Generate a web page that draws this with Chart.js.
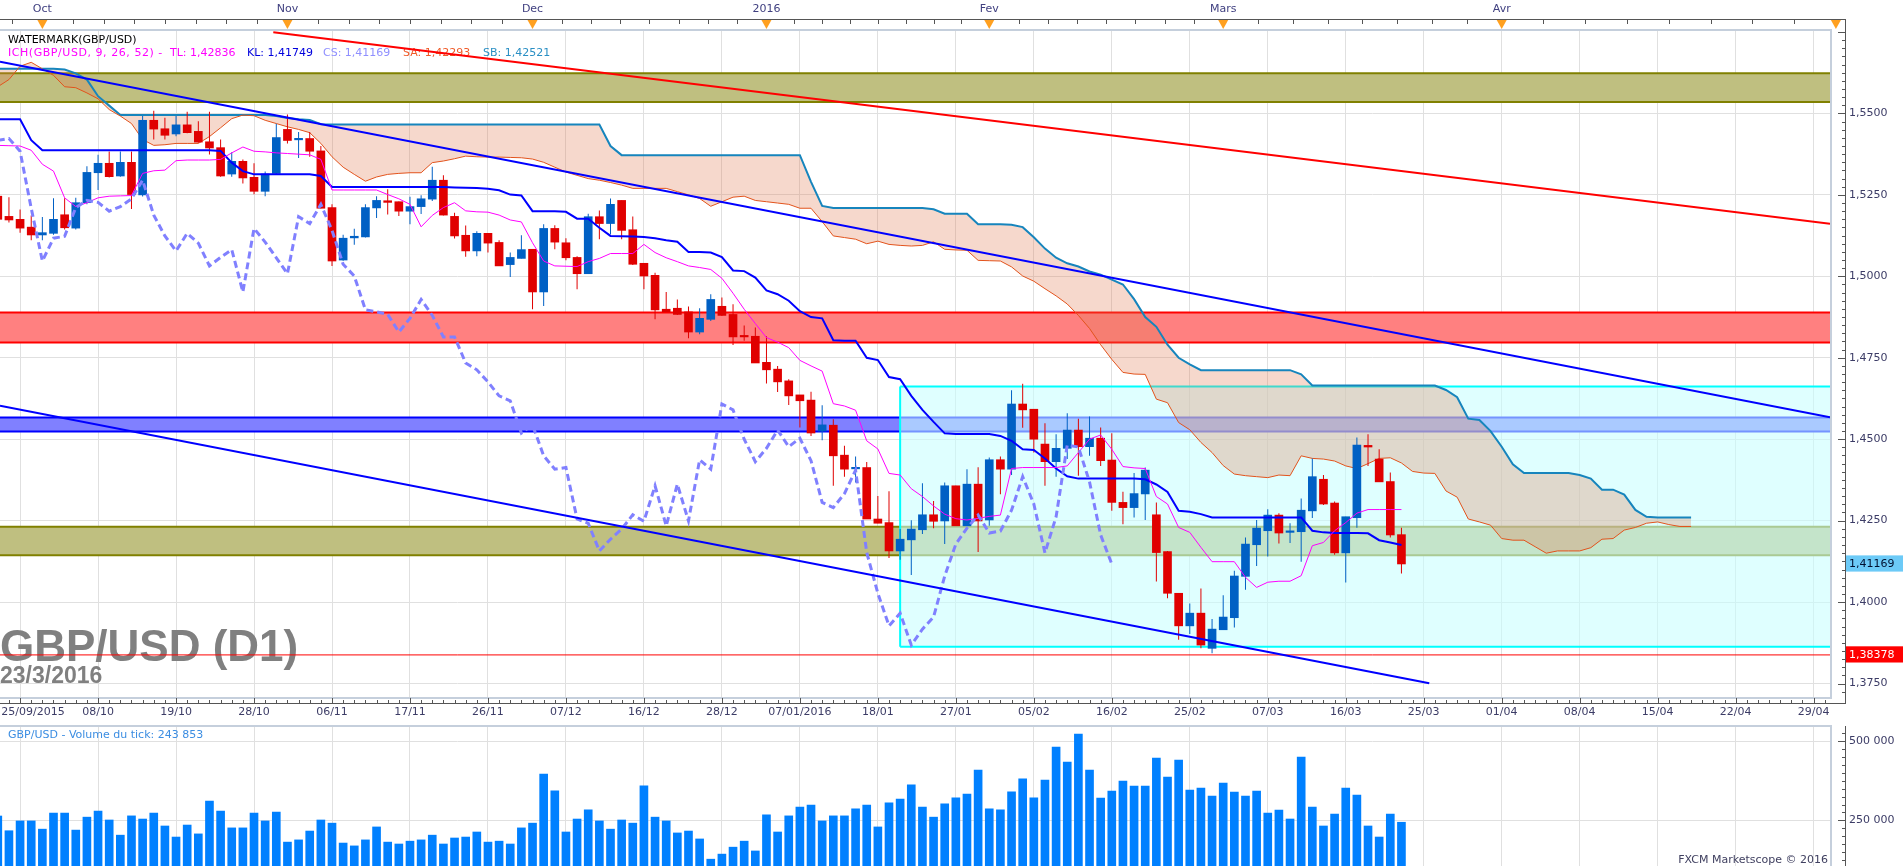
<!DOCTYPE html>
<html lang="fr">
<head>
<meta charset="utf-8">
<title>GBP/USD (D1)</title>
<script src="https://cdn.jsdelivr.net/npm/chart.js@4.4.1/dist/chart.umd.min.js"></script>
<style>
  html, body { margin: 0; padding: 0; background: #fff; overflow: hidden; }
  .panel { position: absolute; left: 0; width: 1903px; }
  #pricePanel { top: 0; height: 722px; }
  #volumePanel { top: 722px; height: 146px; }
</style>
</head>
<body>
<div class="panel" id="pricePanel"><canvas id="priceChart"></canvas></div>
<div class="panel" id="volumePanel"><canvas id="volumeChart"></canvas></div>
<script>
// GBP/USD D1 - index 0 = 25/09/2015, one slot per trading day up to 23/03/2016 (index 126)
const open = [
  1.5246,1.5184,1.5175,1.5151,1.5127,1.5132,1.5189,1.5148,1.5226,1.5318,
  1.5347,1.5308,1.5350,1.5250,1.5479,1.5453,1.5437,1.5465,1.5445,1.5413,
  1.5395,1.5314,1.5353,1.5304,1.5261,1.5316,1.5451,1.5419,1.5423,1.5385,
  1.5211,1.5050,1.5118,1.5121,1.5210,1.5232,1.5229,1.5200,1.5214,1.5237,
  1.5295,1.5184,1.5126,1.5078,1.5132,1.5104,1.5036,1.5055,1.5083,1.4952,
  1.5147,1.5103,1.5058,1.5008,1.5183,1.5162,1.5233,1.5143,1.5040,1.5003,
  1.4899,1.4902,1.4891,1.4829,1.4868,1.4908,1.4883,1.4816,1.4816,1.4736,
  1.4715,1.4679,1.4636,1.4620,1.4525,1.4543,1.4451,1.4409,1.4413,1.4255,
  1.4244,1.4157,1.4191,1.4222,1.4268,1.4249,1.4357,1.4234,1.4362,1.4252,
  1.4437,1.4408,1.4608,1.4592,1.4485,1.4431,1.4472,1.4528,1.4477,1.4503,
  1.4436,1.4306,1.4290,1.4332,1.4268,1.4155,1.4027,1.3927,1.3966,1.3858,
  1.3915,1.3952,1.4079,1.4176,1.4219,1.4267,1.4214,1.4216,1.4280,1.4377,
  1.4304,1.4151,1.4259,1.4481,1.4439,1.4370,1.4207
];
const high = [
  1.5255,1.5243,1.5205,1.5187,1.5182,1.5240,1.5240,1.5241,1.5338,1.5373,
  1.5383,1.5383,1.5383,1.5492,1.5508,1.5487,1.5492,1.5505,1.5476,1.5505,
  1.5420,1.5381,1.5359,1.5347,1.5322,1.5468,1.5497,1.5443,1.5443,1.5400,
  1.5221,1.5128,1.5146,1.5221,1.5246,1.5267,1.5230,1.5244,1.5249,1.5336,
  1.5310,1.5195,1.5156,1.5138,1.5132,1.5111,1.5073,1.5126,1.5083,1.5160,
  1.5157,1.5117,1.5062,1.5192,1.5202,1.5239,1.5233,1.5184,1.5040,1.5011,
  1.4952,1.4929,1.4907,1.4902,1.4945,1.4935,1.4914,1.4849,1.4843,1.4816,
  1.4725,1.4684,1.4636,1.4646,1.4604,1.4561,1.4480,1.4447,1.4430,1.4326,
  1.4340,1.4224,1.4251,1.4365,1.4310,1.4367,1.4357,1.4408,1.4414,1.4444,
  1.4447,1.4650,1.4670,1.4592,1.4549,1.4515,1.4580,1.4563,1.4570,1.4536,
  1.4518,1.4339,1.4396,1.4413,1.4306,1.4157,1.4027,1.3996,1.4042,1.3948,
  1.4021,1.4096,1.4198,1.4252,1.4285,1.4273,1.4242,1.4318,1.4441,1.4390,
  1.4309,1.4262,1.4505,1.4515,1.4469,1.4398,1.4228
];
const low = [
  1.5165,1.5165,1.5134,1.5111,1.5111,1.5128,1.5144,1.5144,1.5221,1.5265,
  1.5303,1.5306,1.5207,1.5245,1.5420,1.5420,1.5430,1.5439,1.5410,1.5374,
  1.5306,1.5306,1.5285,1.5252,1.5246,1.5313,1.5408,1.5363,1.5367,1.5208,
  1.5032,1.5048,1.5097,1.5119,1.5179,1.5190,1.5185,1.5160,1.5191,1.5231,
  1.5187,1.5116,1.5060,1.5062,1.5073,1.5032,1.4998,1.5055,1.4899,1.4909,
  1.5083,1.5049,1.4960,1.5008,1.5114,1.5129,1.5114,1.5035,1.4960,1.4868,
  1.4891,1.4881,1.4810,1.4822,1.4863,1.4878,1.4789,1.4802,1.4734,1.4671,
  1.4645,1.4605,1.4536,1.4510,1.4497,1.4357,1.4385,1.4367,1.4255,1.4242,
  1.4135,1.4130,1.4083,1.4209,1.4227,1.4178,1.4234,1.4234,1.4154,1.4234,
  1.4331,1.4390,1.4535,1.4459,1.4357,1.4385,1.4439,1.4388,1.4449,1.4418,
  1.4280,1.4239,1.4260,1.4252,1.4063,1.4012,1.3884,1.3902,1.3858,1.3843,
  1.3915,1.3922,1.4038,1.4111,1.4140,1.4180,1.4181,1.4124,1.4258,1.4298,
  1.4145,1.4060,1.4228,1.4418,1.4369,1.4198,1.4088
];
const close = [
  1.5175,1.5173,1.5148,1.5127,1.5134,1.5175,1.5149,1.5226,1.5319,1.5347,
  1.5306,1.5350,1.5251,1.5479,1.5452,1.5433,1.5465,1.5441,1.5412,1.5394,
  1.5308,1.5353,1.5302,1.5261,1.5314,1.5426,1.5417,1.5423,1.5384,1.5209,
  1.5047,1.5117,1.5123,1.5211,1.5233,1.5227,1.5200,1.5214,1.5238,1.5295,
  1.5188,1.5124,1.5078,1.5132,1.5102,1.5032,1.5058,1.5082,1.4952,1.5147,
  1.5105,1.5057,1.5008,1.5183,1.5162,1.5221,1.5141,1.5037,1.5001,1.4897,
  1.4891,1.4883,1.4829,1.4871,1.4929,1.4880,1.4814,1.4814,1.4734,1.4713,
  1.4676,1.4633,1.4618,1.4519,1.4544,1.4449,1.4408,1.4413,1.4255,1.4242,
  1.4157,1.4193,1.4224,1.4268,1.4248,1.4357,1.4234,1.4362,1.4249,1.4437,
  1.4408,1.4608,1.4590,1.4500,1.4431,1.4472,1.4528,1.4477,1.4503,1.4434,
  1.4306,1.4290,1.4333,1.4405,1.4152,1.4027,1.3927,1.3966,1.3868,1.3917,
  1.3954,1.4080,1.4178,1.4227,1.4267,1.4212,1.4218,1.4282,1.4385,1.4301,
  1.4151,1.4262,1.4482,1.4476,1.4369,1.4206,1.4117
];
const volume = [
  263600,217000,248000,248000,222000,273000,273000,219000,260000,279000,
  251000,203000,264000,254000,273000,232000,197000,235000,207000,311000,
  279000,226000,226000,273000,248000,276000,181000,188000,216000,251000,
  241000,178000,169000,188000,229000,181000,175000,184000,188000,203000,
  175000,194000,197000,213000,181000,184000,175000,226000,241000,396000,
  343000,213000,254000,283000,248000,222000,251000,241000,359000,260000,
  248000,210000,216000,191000,127000,143000,165000,184000,153000,267000,
  213000,264000,292000,298000,248000,264000,264000,286000,298000,229000,
  305000,317000,362000,292000,260000,302000,321000,333000,409000,286000,
  283000,340000,381000,321000,377500,482000,434500,523000,409000,320600,
  342700,374400,358500,358500,447100,387000,440800,345900,352200,326900,
  368000,339500,326900,342700,273100,282600,254100,450300,292100,232000,
  269900,352200,330000,232000,197100,269900,243853
];

// Ichimoku (9, 26, 52)
const tenkan = [
  1.5402,1.5401,1.5400,1.5387,1.5344,1.5323,1.5241,1.5214,1.5226,1.5241,
  1.5246,1.5247,1.5248,1.5316,1.5324,1.5326,1.5355,1.5357,1.5357,1.5357,
  1.5359,1.5379,1.5397,1.5384,1.5382,1.5379,1.5377,1.5375,1.5373,1.5359,
  1.5265,1.5265,1.5265,1.5265,1.5265,1.5251,1.5238,1.5221,1.5152,1.5187,
  1.5211,1.5226,1.5201,1.5198,1.5197,1.5188,1.5173,1.5167,1.5103,1.5047,
  1.5032,1.5031,1.5030,1.5045,1.5055,1.5070,1.5070,1.5070,1.5098,1.5073,
  1.5057,1.5045,1.5032,1.5027,1.5021,1.4994,1.4948,1.4899,1.4855,1.4812,
  1.4798,1.4781,1.4742,1.4725,1.4709,1.4609,1.4602,1.4589,1.4495,1.4470,
  1.4395,1.4390,1.4348,1.4324,1.4295,1.4270,1.4256,1.4252,1.4257,1.4263,
  1.4267,1.4410,1.4413,1.4413,1.4413,1.4413,1.4418,1.4459,1.4500,1.4513,
  1.4469,1.4416,1.4412,1.4410,1.4324,1.4301,1.4229,1.4214,1.4168,1.4124,
  1.4124,1.4124,1.4076,1.4045,1.4061,1.4064,1.4064,1.4081,1.4173,1.4183,
  1.4219,1.4244,1.4273,1.4284,1.4284,1.4284,1.4284
];
const kijun = [
  1.5482,1.5482,1.5482,1.5418,1.5387,1.5387,1.5387,1.5387,1.5387,1.5387,
  1.5387,1.5387,1.5387,1.5387,1.5387,1.5387,1.5387,1.5387,1.5387,1.5387,
  1.5385,1.5349,1.5323,1.5313,1.5313,1.5313,1.5313,1.5313,1.5313,1.5308,
  1.5274,1.5274,1.5274,1.5274,1.5274,1.5274,1.5274,1.5274,1.5274,1.5274,
  1.5274,1.5273,1.5272,1.5271,1.5269,1.5264,1.5251,1.5248,1.5200,1.5200,
  1.5200,1.5198,1.5177,1.5177,1.5149,1.5124,1.5123,1.5122,1.5121,1.5117,
  1.5111,1.5106,1.5075,1.5075,1.5073,1.5059,1.5018,1.5016,1.4996,1.4957,
  1.4945,1.4925,1.4893,1.4875,1.4871,1.4804,1.4802,1.4802,1.4750,1.4743,
  1.4691,1.4684,1.4633,1.4590,1.4553,1.4518,1.4516,1.4516,1.4516,1.4516,
  1.4510,1.4495,1.4469,1.4467,1.4441,1.4410,1.4386,1.4379,1.4379,1.4379,
  1.4379,1.4379,1.4379,1.4377,1.4361,1.4338,1.4280,1.4277,1.4270,1.4260,
  1.4260,1.4260,1.4260,1.4260,1.4260,1.4260,1.4260,1.4260,1.4219,1.4214,
  1.4212,1.4212,1.4212,1.4211,1.4190,1.4183,1.4175
];
// Senkou spans, already shifted 26 slots ahead (index 0..152)
const senkouA = [
  1.5582,1.5604,1.5645,1.5657,1.5637,1.5617,1.5582,1.5579,1.5563,1.5545,
  1.5512,1.5492,1.5469,1.5420,1.5402,1.5404,1.5408,1.5408,1.5408,1.5429,
  1.5456,1.5484,1.5495,1.5493,1.5479,1.5469,1.5459,1.5451,1.5441,1.5408,
  1.5367,1.5335,1.5313,1.5292,1.5305,1.5313,1.5316,1.5318,1.5318,1.5349,
  1.5354,1.5361,1.5369,1.5367,1.5366,1.5366,1.5365,1.5364,1.5360,1.5350,
  1.5335,1.5320,1.5310,1.5300,1.5295,1.5288,1.5280,1.5270,1.5270,1.5270,
  1.5270,1.5260,1.5250,1.5239,1.5215,1.5229,1.5243,1.5246,1.5233,1.5229,
  1.5225,1.5221,1.5209,1.5209,1.5168,1.5124,1.5119,1.5114,1.5100,1.5108,
  1.5098,1.5095,1.5093,1.5095,1.5106,1.5083,1.5081,1.5080,1.5049,1.5048,
  1.5047,1.5029,1.5001,1.4985,1.4962,1.4940,1.4915,1.4880,1.4840,1.4790,
  1.4745,1.4705,1.4700,1.4699,1.4623,1.4612,1.4551,1.4529,1.4490,1.4459,
  1.4419,1.4393,1.4388,1.4385,1.4382,1.4390,1.4388,1.4449,1.4441,1.4439,
  1.4433,1.4418,1.4410,1.4425,1.4441,1.4443,1.4427,1.4401,1.4396,1.4395,
  1.4341,1.4322,1.4255,1.4246,1.4236,1.4195,1.4190,1.4190,1.4170,1.4150,
  1.4157,1.4157,1.4157,1.4167,1.4193,1.4195,1.4221,1.4229,1.4242,1.4246,
  1.4238,1.4232,1.4232
];
const senkouB = [
  1.5637,1.5637,1.5637,1.5637,1.5637,1.5637,1.5635,1.5623,1.5604,1.5553,
  1.5524,1.5495,1.5495,1.5495,1.5495,1.5495,1.5495,1.5495,1.5495,1.5495,
  1.5495,1.5495,1.5495,1.5495,1.5495,1.5492,1.5486,1.5482,1.5480,1.5467,
  1.5466,1.5466,1.5466,1.5466,1.5466,1.5466,1.5466,1.5466,1.5466,1.5466,
  1.5466,1.5466,1.5466,1.5466,1.5466,1.5466,1.5466,1.5466,1.5466,1.5466,
  1.5466,1.5466,1.5466,1.5466,1.5466,1.5400,1.5372,1.5372,1.5372,1.5372,
  1.5372,1.5372,1.5372,1.5372,1.5372,1.5372,1.5372,1.5372,1.5372,1.5372,
  1.5372,1.5372,1.5372,1.5290,1.5216,1.5210,1.5210,1.5210,1.5210,1.5210,
  1.5210,1.5210,1.5210,1.5210,1.5206,1.5192,1.5192,1.5192,1.5160,1.5160,
  1.5160,1.5158,1.5151,1.5120,1.5085,1.5057,1.5040,1.5030,1.5015,1.5005,
  1.4990,1.4975,1.4930,1.4875,1.4845,1.4790,1.4750,1.4730,1.4712,1.4712,
  1.4712,1.4712,1.4712,1.4712,1.4712,1.4712,1.4712,1.4699,1.4665,1.4665,
  1.4665,1.4665,1.4665,1.4665,1.4665,1.4665,1.4665,1.4665,1.4665,1.4665,
  1.4651,1.4629,1.4563,1.4559,1.4525,1.4477,1.4423,1.4396,1.4396,1.4396,
  1.4396,1.4396,1.4390,1.4379,1.4345,1.4345,1.4330,1.4283,1.4262,1.4260,
  1.4260,1.4260,1.4260
];
const chikouShift = 26;

// drawn objects: [slot, price] end points and [top, bottom] zones
const redTrend = [[24.73, 1.57491], [164.47, 1.51610]];
const blueTrendHigh = [[0.1975, 1.56589], [164.47, 1.45675]];
const blueTrendLow = [[0.1975, 1.46028], [128.5, 1.37506]];
const oliveZoneHigh = [1.56233, 1.55353];
const redZone = [1.48890, 1.47969];
const blueZone = [1.45669, 1.45239];
const oliveZoneLow = [1.42316, 1.41436];
const boxZone = [81, 1.46620, 1.38626];      // start slot, top, bottom
const supportLevel = 1.38378;
const lastClose = 1.41169;

// axes
const dateTickIdx = [9,16,23,30,37,44,51,58,65,72,79,86,93,100,107,114,121,128,135,142,149,156,163];
const dateTickText = ['08/10','19/10','28/10','06/11','17/11','26/11','07/12','16/12','28/12','07/01/2016',
  '18/01','27/01','05/02','16/02','25/02','07/03','16/03','25/03','01/04','08/04','15/04','22/04','29/04'];
const firstGridIdx = 2, firstLabelIdx = 3.16, firstLabel = '25/09/2015';
const monthIdx = [4, 26, 48, 69, 89, 110, 135, 165];
const monthText = ['Oct', 'Nov', 'Dec', '2016', 'Fev', 'Mars', 'Avr', ''];
const priceTicks = [1.375, 1.4, 1.425, 1.45, 1.475, 1.5, 1.525, 1.55];
const volumeTicks = [250000, 500000];
const legendParts = [
  ['ICH(GBP/USD, 9, 26, 52) -', '#ff00ff', 8, '0.55px'],
  ['TL: 1,42836', '#ff00ff', 170, '0px'],
  ['KL: 1,41749', '#0000dd', 247, '0px'],
  ['CS: 1,41169', '#8f8fff', 323, '0px'],
  ['SA: 1,42293', '#f05a28', 403, '0px'],
  ['SB: 1,42521', '#2a8fc4', 483, '0px']
];

const X_MIN = 0.1975, X_MAX = 164.47;
const Y_MIN = 1.37086, Y_MAX = 1.57531;
const V_MIN = 105400, V_MAX = 548400;
const UP = '#0060c4', DOWN = '#e00000';
const GRID = '#e0e0e0', AXIS_TEXT = '#3c3c66', NONE = 'rgba(0,0,0,0)';

Chart.defaults.font.family = '"DejaVu Sans", sans-serif';
Chart.defaults.font.size = 11;

const flat = (level, from = X_MIN, to = X_MAX) => [{ x: from, y: level }, { x: to, y: level }];
const seg = p => p.map(([x, y]) => ({ x, y }));
const series = (arr, start = 0) => arr.map((v, i) => ({ x: i + start, y: v }));

const datasets = [];
function line(data, color, width, order, extra) {
  datasets.push(Object.assign({
    type: 'line', data, borderColor: color, borderWidth: width,
    pointRadius: 0, tension: 0, fill: false, order, clip: 0
  }, extra));
  return datasets.length - 1;
}
function zone(levels, border, bg, order) {
  const top = line(flat(levels[0]), border, 2, order);
  const bottom = line(flat(levels[1]), border, 2, order - 0.5);
  datasets[top].fill = { target: bottom };
  datasets[top].backgroundColor = bg;
}

zone(oliveZoneHigh, '#808000', '#bfbf80', 40);
zone(redZone, '#ff0000', '#ff8080', 40);
zone(blueZone, '#0000ff', '#8080ff', 40);
zone(oliveZoneLow, '#808000', '#bfbf80', 40);

// box sits over the zones, the cloud over the box
const boxTop = line(flat(boxZone[1], boxZone[0]), '#00ffff', 2, 34);
const boxBottom = line(flat(boxZone[2], boxZone[0]), '#00ffff', 2, 33);
datasets[boxTop].fill = { target: boxBottom };
datasets[boxTop].backgroundColor = 'rgba(200,255,255,0.58)';
line([{ x: boxZone[0], y: boxZone[1] }, { x: boxZone[0], y: boxZone[2] }], '#00ffff', 2, 33);

const cloudTop = line(series(senkouA), NONE, 0, 30);
const cloudBottom = line(series(senkouB), NONE, 0, 30);
datasets[cloudTop].fill = { target: cloudBottom };
datasets[cloudTop].backgroundColor = 'rgba(224,120,79,0.29)';

line(flat(supportLevel), '#ff0000', 1, 15);

line(series(senkouA), '#e2531c', 1, 9);
line(series(senkouB), '#1685bd', 2, 9);

const candleColor = ctx => close[ctx.dataIndex] >= open[ctx.dataIndex] ? UP : DOWN;
datasets.push({
  type: 'bar', order: 8, grouped: false, barThickness: 1, inflateAmount: 0, borderWidth: 0,
  data: close.map((c, i) => ({ x: i, y: [low[i], high[i]] })),
  backgroundColor: candleColor
});
datasets.push({
  type: 'bar', order: 7, grouped: false, barThickness: 8, minBarLength: 1.5, borderWidth: 0,
  data: close.map((c, i) => ({ x: i, y: [open[i], c] })),
  backgroundColor: candleColor
});

line(series(kijun), '#0000ff', 2, 5);
line(series(tenkan), '#ff00ff', 1, 4);
line(series(close.slice(chikouShift)), '#8080ff', 3, 3, { borderDash: [7, 4] });

line(seg(redTrend), '#ff0000', 2, 1);
line(seg(blueTrendHigh), '#0000ff', 2, 1);
line(seg(blueTrendLow), '#0000ff', 2, 1);

const xLabels = new Map(dateTickIdx.map((v, k) => [v, dateTickText[k]]));
xLabels.set(firstLabelIdx, firstLabel);
const gridTicks = [firstGridIdx, ...dateTickIdx];

function fmtPrice(v) {
  const digits = (v === lastClose || v === supportLevel) ? 5 : 4;
  return v.toFixed(digits).replace('.', ',');
}
const isSpecial = v => v === lastClose || v === supportLevel;

// fixed-width right axis, no extra vertical padding for its labels
function fitRightAxis(s) {
  s.width = 73;
  s.paddingTop = 0;
  s.paddingBottom = 0;
}

const priceDecor = {
  id: 'priceDecor',
  beforeDatasetsDraw(chart) {
    const { ctx } = chart;
    ctx.save();
    ctx.fillStyle = '#808080';
    ctx.font = 'bold 44px "Liberation Sans", Arial, sans-serif';
    ctx.fillText('GBP/USD (D1)', 0, 661);
    ctx.font = 'bold 23px "Liberation Sans", Arial, sans-serif';
    ctx.fillText('23/3/2016', 0, 683);
    ctx.font = '11px "DejaVu Sans"';
    ctx.fillStyle = '#000';
    ctx.fillText('WATERMARK(GBP/USD)', 8, 43);
    legendParts.forEach(([t, c, x, sp]) => {
      ctx.letterSpacing = sp;
      ctx.fillStyle = c;
      ctx.fillText(t, x, 56);
    });
    ctx.letterSpacing = '0px';
    ctx.restore();
  },
  afterDraw(chart) {
    const { ctx, chartArea: a, scales: { x, y } } = chart;
    ctx.save();
    // frame
    ctx.fillStyle = '#c5cfdc';
    ctx.fillRect(0, a.top - 2, a.right + 2, 2);
    ctx.fillRect(a.right, a.top - 2, 2, a.bottom - a.top + 4);
    ctx.fillRect(0, a.bottom, a.right + 2, 2);
    // axis lines
    ctx.fillStyle = '#555';
    ctx.fillRect(0, 19, 1846, 1);
    ctx.fillRect(0, a.bottom + 6, 1846, 1);
    ctx.fillRect(1845, 19, 1, a.bottom + 7 - 19);
    // bottom ticks: one per slot, longer on grid lines
    for (let i = 1; i <= Math.floor(X_MAX); i++) {
      ctx.fillRect(Math.round(x.getPixelForValue(i)), a.bottom + 3, 1, 3);
    }
    gridTicks.forEach(i => ctx.fillRect(Math.round(x.getPixelForValue(i)), a.bottom + 1, 1, 5));
    // top ticks: months split in eighths
    const topTicks = [monthIdx[0] - (monthIdx[1] - monthIdx[0]) / 8];
    for (let k = 0; k < monthIdx.length - 1; k++) {
      const step = (monthIdx[k + 1] - monthIdx[k]) / 8;
      for (let j = 0; j < 8; j++) topTicks.push(monthIdx[k] + j * step);
    }
    topTicks.forEach(i => {
      const px = Math.round(x.getPixelForValue(i));
      if (px >= 0 && px <= a.right) ctx.fillRect(px, 19, 1, 5);
    });
    // price ticks every 0.0025
    for (let k = 549; k <= 630; k++) {
      const p = k * 0.0025;
      if (p < Y_MIN || p > Y_MAX) continue;
      const py = Math.round(y.getPixelForValue(p));
      const major = k % 10 === 0;
      ctx.fillRect(major ? 1838 : 1842, py, major ? 7 : 3, 1);
    }
    // month markers
    ctx.fillStyle = '#ffa020';
    monthIdx.forEach(i => {
      const px = x.getPixelForValue(i);
      ctx.beginPath();
      ctx.moveTo(px - 5, 20);
      ctx.lineTo(px + 5, 20);
      ctx.lineTo(px, 29);
      ctx.closePath();
      ctx.fill();
    });
    ctx.restore();
  }
};

new Chart(document.getElementById('priceChart'), {
  type: 'bar',
  data: { datasets },
  options: {
    responsive: true,
    maintainAspectRatio: false,
    animation: false,
    events: [],
    layout: { padding: 0 },
    plugins: { legend: { display: false }, tooltip: { enabled: false } },
    scales: {
      x: {
        type: 'linear', position: 'bottom', min: X_MIN, max: X_MAX, offset: false,
        afterBuildTicks: s => { s.ticks = [firstGridIdx, firstLabelIdx, ...dateTickIdx].map(v => ({ value: v })); },
        afterFit: s => { s.height = 25; },
        grid: { offset: false, drawTicks: false, color: c => c.tick && c.tick.value === firstLabelIdx ? NONE : GRID },
        border: { display: false },
        ticks: {
          autoSkip: false, maxRotation: 0, minRotation: 0, padding: 9, color: AXIS_TEXT,
          font: { size: 11 },
          callback: v => xLabels.get(v) || ''
        }
      },
      xTop: {
        type: 'linear', position: 'top', min: X_MIN, max: X_MAX, offset: false,
        afterBuildTicks: s => { s.ticks = monthIdx.slice(0, 7).map(v => ({ value: v })); },
        afterFit: s => { s.height = 31; },
        grid: { display: false, drawTicks: false },
        border: { display: false },
        ticks: {
          autoSkip: false, maxRotation: 0, padding: 15, color: '#404080',
          callback: (v, k) => monthText[k]
        }
      },
      y: {
        type: 'linear', position: 'right', min: Y_MIN, max: Y_MAX,
        afterBuildTicks: s => {
          s.ticks = [...priceTicks, lastClose, supportLevel].sort((p, q) => p - q).map(v => ({ value: v }));
        },
        afterFit: fitRightAxis,
        grid: {
          drawTicks: true, tickLength: 15, tickColor: NONE,
          color: c => c.tick && isSpecial(c.tick.value) ? NONE : GRID
        },
        border: { display: false },
        ticks: {
          autoSkip: false, padding: 4, font: { size: 11 },
          color: c => c.tick.value === lastClose ? '#001030' : (c.tick.value === supportLevel ? '#ffffff' : AXIS_TEXT),
          showLabelBackdrop: c => isSpecial(c.tick.value),
          backdropColor: c => c.tick.value === lastClose ? '#6ccaf7' : '#ff0000',
          backdropPadding: { left: 4, right: 12, top: 2, bottom: 1 },
          callback: v => fmtPrice(v)
        }
      }
    }
  },
  plugins: [priceDecor]
});

const volumeDecor = {
  id: 'volumeDecor',
  afterDraw(chart) {
    const { ctx, chartArea: a, scales: { y } } = chart;
    ctx.save();
    ctx.fillStyle = '#c5cfdc';
    ctx.fillRect(0, a.top - 1, a.right + 2, 2);
    ctx.fillRect(a.right, a.top - 1, 2, a.bottom - a.top + 1);
    ctx.fillStyle = '#555';
    ctx.fillRect(1845, a.top, 1, a.bottom - a.top);
    for (let k = 5; k <= 21; k++) {
      const major = k % 10 === 0;
      const py = Math.round(y.getPixelForValue(k * 25000));
      ctx.fillRect(major ? 1838 : 1842, py, major ? 7 : 3, 1);
    }
    ctx.font = '11px "DejaVu Sans"';
    ctx.fillStyle = '#3b8de2';
    ctx.fillText('GBP/USD - Volume du tick: 243 853', 8, 16);
    ctx.fillStyle = '#404060';
    ctx.textAlign = 'right';
    ctx.fillText('FXCM Marketscope \u00a9 2016', a.right - 2, 141);
    ctx.restore();
  }
};

new Chart(document.getElementById('volumeChart'), {
  type: 'bar',
  data: {
    datasets: [{
      data: volume.map((v, i) => ({ x: i, y: v })),
      backgroundColor: '#0080ff', barThickness: 8, borderWidth: 0, grouped: false
    }]
  },
  options: {
    responsive: true,
    maintainAspectRatio: false,
    animation: false,
    events: [],
    layout: { padding: { top: 4 } },
    plugins: { legend: { display: false }, tooltip: { enabled: false } },
    scales: {
      x: {
        type: 'linear', min: X_MIN, max: X_MAX, offset: false,
        afterBuildTicks: s => { s.ticks = gridTicks.map(v => ({ value: v })); },
        afterFit: s => { s.height = 2; },
        grid: { offset: false, drawTicks: false, color: GRID },
        border: { display: false },
        ticks: { display: false }
      },
      y: {
        position: 'right', min: V_MIN, max: V_MAX,
        afterBuildTicks: s => { s.ticks = volumeTicks.map(v => ({ value: v })); },
        afterFit: fitRightAxis,
        grid: { drawTicks: true, tickLength: 15, tickColor: NONE, color: GRID },
        border: { display: false },
        ticks: {
          padding: 4, color: AXIS_TEXT, font: { size: 11 },
          callback: v => String(v).replace(/\B(?=(\d{3})+(?!\d))/g, ' ')
        }
      }
    }
  },
  plugins: [volumeDecor]
});
</script>
</body>
</html>
